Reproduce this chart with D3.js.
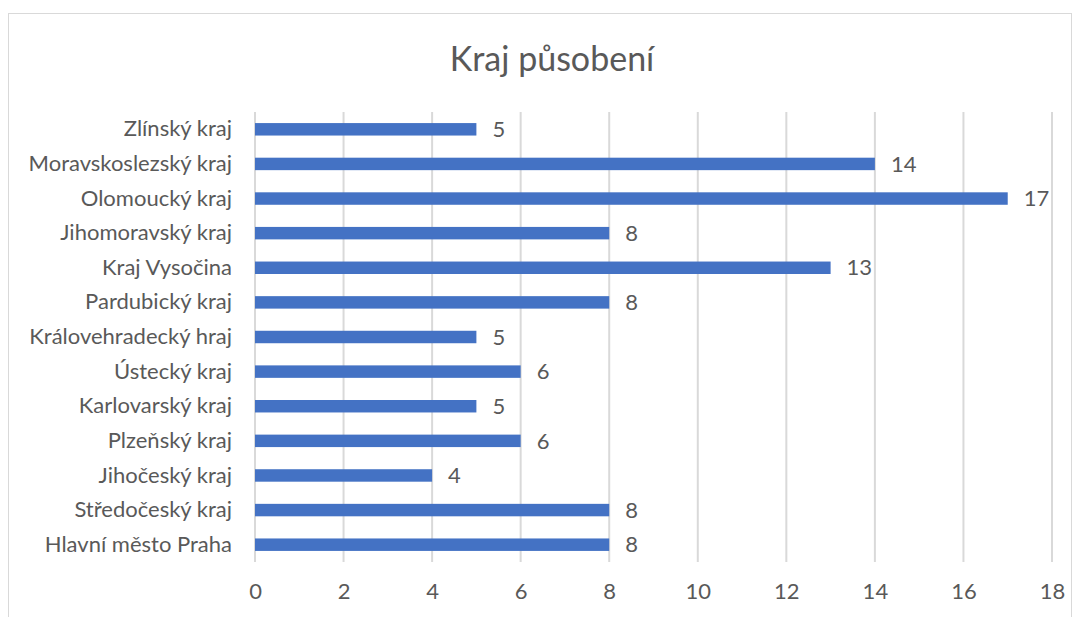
<!DOCTYPE html>
<html lang="cs">
<head>
<meta charset="UTF-8">
<title>Kraj působení</title>
<script src="https://d3js.org/d3.v7.min.js"></script>
<style>
  body { margin: 0; background: #fff; }
  text { font-family: Lato, "Open Sans", sans-serif; fill: #595959; }
</style>
</head>
<body>
<div id="chart"></div>
<script>
// data, top to bottom as drawn
var regions = ["Zlínský kraj", "Moravskoslezský kraj", "Olomoucký kraj", "Jihomoravský kraj",
  "Kraj Vysočina", "Pardubický kraj", "Královehradecký hraj", "Ústecký kraj",
  "Karlovarský kraj", "Plzeňský kraj", "Jihočeský kraj", "Středočeský kraj", "Hlavní město Praha"];
var counts = [5, 14, 17, 8, 13, 8, 5, 6, 5, 6, 4, 8, 8];
var xTicks = [0, 2, 4, 6, 8, 10, 12, 14, 16, 18];

var W = 1080, H = 617;
var margin = {top: 112, right: 28, bottom: 55, left: 255};
var width = W - margin.left - margin.right;   // 797
var height = H - margin.top - margin.bottom;  // 450
var fs = "22px";

var svg = d3.select("#chart").append("svg")
    .attr("width", W).attr("height", H);

// chart area border
svg.append("rect")
    .attr("x", 8.5).attr("y", 13.5)
    .attr("width", 1063).attr("height", 620)
    .attr("fill", "none").attr("stroke", "#d9d9d9");

svg.append("text")
    .attr("x", 552).attr("y", 71)
    .attr("text-anchor", "middle")
    .style("font-size", "34px")
    .text("Kraj působení");

var g = svg.append("g")
    .attr("transform", "translate(" + margin.left + "," + margin.top + ")");

var x = d3.scaleLinear().domain([0, 18]).range([0, width]);
var y = d3.scaleBand().domain(regions).range([0, height]).paddingInner(0.64).paddingOuter(0.32);

// gridlines
g.selectAll(".grid")
    .data(xTicks)
    .enter().append("line")
    .attr("x1", function (d) { return x(d); })
    .attr("x2", function (d) { return x(d); })
    .attr("y1", 0).attr("y2", height)
    .attr("stroke", "#d9d9d9").attr("stroke-width", 2);

// bottom axis labels
var xAxis = g.append("g")
    .attr("transform", "translate(0," + height + ")")
    .call(d3.axisBottom(x).tickValues(xTicks).tickSize(0).tickPadding(21));
xAxis.select(".domain").remove();
xAxis.selectAll("text").style("font-size", fs).attr("fill", "#595959")
    .style("font-family", "Lato, 'Open Sans', sans-serif");

// left axis labels
var yAxis = g.append("g")
    .call(d3.axisLeft(y).tickSize(0).tickPadding(23));
yAxis.select(".domain").remove();
yAxis.selectAll("text").style("font-size", fs).attr("fill", "#595959")
    .style("font-family", "Lato, 'Open Sans', sans-serif");

// bars
g.selectAll(".bar")
    .data(regions)
    .enter().append("rect")
    .attr("x", x(0))
    .attr("y", function (d) { return y(d); })
    .attr("width", function (d, i) { return x(counts[i]) - x(0); })
    .attr("height", y.bandwidth())
    .attr("fill", "#4472c4");

// value labels
g.selectAll(".val")
    .data(regions)
    .enter().append("text")
    .attr("x", function (d, i) { return x(counts[i]) + 16; })
    .attr("y", function (d) { return y(d) + y.bandwidth() / 2; })
    .attr("dy", "0.35em")
    .style("font-size", fs)
    .text(function (d, i) { return counts[i]; });
</script>
</body>
</html>
